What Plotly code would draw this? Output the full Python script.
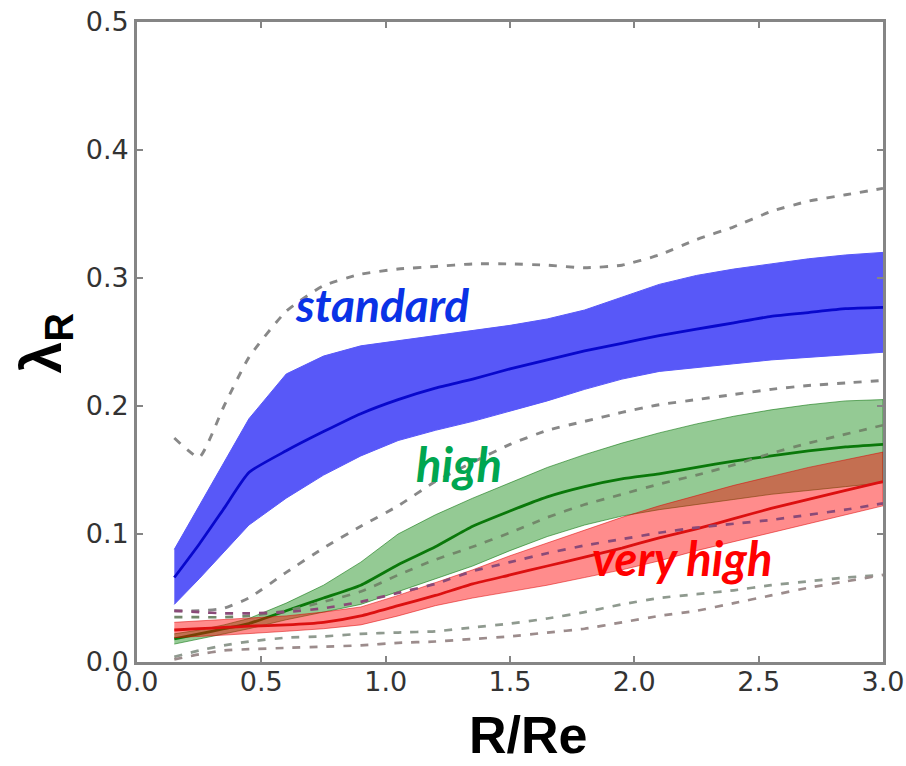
import plotly.graph_objects as go

# Radius grid (R/Re) shared by every profile
r_re = [0.15, 0.25, 0.35, 0.45, 0.6, 0.75, 0.9, 1.05, 1.2, 1.35, 1.5,
        1.65, 1.8, 1.95, 2.1, 2.25, 2.4, 2.55, 2.7, 2.85, 3.0]

# "standard" sample: band limits and median
std_upper = [0.088, 0.122, 0.156, 0.190, 0.225, 0.239, 0.247, 0.251, 0.255, 0.259, 0.263,
             0.268, 0.275, 0.285, 0.295, 0.302, 0.307, 0.311, 0.315, 0.318, 0.320]
std_median = [0.066, 0.092, 0.120, 0.148, 0.165, 0.180, 0.194, 0.205, 0.214, 0.221, 0.229,
              0.236, 0.243, 0.249, 0.255, 0.260, 0.265, 0.270, 0.273, 0.276, 0.277]
std_lower = [0.045, 0.065, 0.086, 0.107, 0.128, 0.146, 0.161, 0.173, 0.181, 0.188, 0.196,
             0.204, 0.213, 0.221, 0.227, 0.230, 0.233, 0.236, 0.238, 0.240, 0.242]

# "high" sample
high_upper = [0.022, 0.025, 0.029, 0.034, 0.046, 0.060, 0.078, 0.100, 0.115, 0.128, 0.140,
              0.152, 0.162, 0.171, 0.179, 0.186, 0.192, 0.197, 0.201, 0.204, 0.205]
high_median = [0.018, 0.022, 0.026, 0.030, 0.040, 0.050, 0.060, 0.076, 0.090, 0.106, 0.118,
               0.129, 0.137, 0.143, 0.147, 0.152, 0.157, 0.161, 0.165, 0.168, 0.170]
high_lower = [0.014, 0.018, 0.022, 0.026, 0.033, 0.039, 0.045, 0.055, 0.065, 0.075, 0.087,
              0.098, 0.107, 0.114, 0.119, 0.123, 0.127, 0.131, 0.134, 0.137, 0.140]

# "very high" sample
vhigh_upper = [0.031, 0.032, 0.033, 0.034, 0.036, 0.039, 0.043, 0.052, 0.062, 0.072, 0.083,
               0.093, 0.103, 0.113, 0.122, 0.130, 0.138, 0.145, 0.152, 0.158, 0.164]
vhigh_median = [0.025, 0.026, 0.027, 0.028, 0.029, 0.031, 0.036, 0.044, 0.052, 0.061, 0.068,
                0.075, 0.082, 0.089, 0.097, 0.104, 0.112, 0.120, 0.127, 0.134, 0.141]
vhigh_lower = [0.019, 0.020, 0.021, 0.022, 0.024, 0.026, 0.029, 0.036, 0.044, 0.050, 0.055,
               0.060, 0.066, 0.072, 0.079, 0.087, 0.094, 0.101, 0.108, 0.115, 0.122]

# Dashed comparison envelopes
std_env_hi = [0.175, 0.160, 0.200, 0.238, 0.274, 0.294, 0.303, 0.307, 0.309, 0.311, 0.311,
              0.310, 0.308, 0.310, 0.318, 0.330, 0.340, 0.352, 0.360, 0.365, 0.370]
std_env_lo = [0.040, 0.040, 0.042, 0.050, 0.070, 0.089, 0.106, 0.122, 0.141, 0.156, 0.170,
              0.181, 0.188, 0.195, 0.201, 0.205, 0.209, 0.213, 0.216, 0.218, 0.220]
high_env_hi = [0.035, 0.035, 0.035, 0.036, 0.040, 0.047, 0.055, 0.068, 0.080, 0.090, 0.101,
               0.113, 0.123, 0.131, 0.139, 0.146, 0.154, 0.163, 0.171, 0.178, 0.185]
high_env_lo = [0.004, 0.009, 0.013, 0.016, 0.019, 0.020, 0.022, 0.023, 0.024, 0.027, 0.030,
               0.034, 0.039, 0.045, 0.050, 0.053, 0.056, 0.060, 0.063, 0.066, 0.068]
vhigh_env_hi = [0.040, 0.039, 0.038, 0.038, 0.039, 0.042, 0.047, 0.054, 0.061, 0.071, 0.078,
                0.085, 0.091, 0.096, 0.101, 0.105, 0.108, 0.111, 0.115, 0.119, 0.124]
vhigh_env_lo = [0.002, 0.006, 0.009, 0.010, 0.011, 0.012, 0.013, 0.015, 0.016, 0.018, 0.020,
                0.023, 0.026, 0.031, 0.036, 0.040, 0.046, 0.052, 0.058, 0.063, 0.068]

x_ticks = [0.0, 0.5, 1.0, 1.5, 2.0, 2.5, 3.0]
y_ticks = [0.0, 0.1, 0.2, 0.3, 0.4, 0.5]

fig = go.Figure()


def band(upper, lower, fill, edge):
    fig.add_trace(go.Scatter(
        x=r_re + r_re[::-1], y=upper + lower[::-1],
        fill="toself", fillcolor=fill, mode="lines",
        line=dict(color=edge, width=1), hoverinfo="skip", showlegend=False))


def line(y, color, width=2.6, dash=None):
    fig.add_trace(go.Scatter(
        x=r_re, y=y, mode="lines",
        line=dict(color=color, width=width, dash=dash, shape="spline", smoothing=0.5),
        hoverinfo="skip", showlegend=False))


DASH = "8px,9px"

# bands and medians
band(std_upper, std_lower, "rgb(88,88,248)", "rgb(88,88,248)")
line(std_median, "#0808cc", 2.8)
band(high_upper, high_lower, "rgba(0,128,0,0.42)", "rgba(0,110,0,0.55)")
line(high_median, "#0a780a", 2.8)
band(vhigh_upper, vhigh_lower, "rgba(255,0,0,0.45)", "rgba(220,0,0,0.5)")
line(vhigh_median, "#dc1010", 2.8)

# dashed envelopes
line(std_env_hi, "#888888", 2.9, DASH)
line(std_env_lo, "#888888", 2.9, DASH)
line(high_env_hi, "#72886a", 2.7, DASH)
line(high_env_lo, "#8f9a8f", 2.7, DASH)
line(vhigh_env_hi, "#8a4a78", 2.7, DASH)
line(vhigh_env_lo, "#9c8c8c", 2.7, DASH)

# sample labels
fig.add_annotation(x=0.985, y=0.279, text="<b><i>standard</i></b>", showarrow=False,
                   font=dict(family="Lato", size=46, color="#0a32e6"),
                   xanchor="center", yanchor="middle")
fig.add_annotation(x=1.295, y=0.155, text="<b><i>high</i></b>", showarrow=False,
                   font=dict(family="Lato", size=47, color="#00a650"),
                   xanchor="center", yanchor="middle")
fig.add_annotation(x=2.19, y=0.081, text="<b><i>very high</i></b>", showarrow=False,
                   font=dict(family="Lato", size=47, color="#ff0000"),
                   xanchor="center", yanchor="middle")

# axis titles
fig.add_annotation(xref="paper", yref="paper", x=0.524, y=-0.1625,
                   text="<b>R/Re</b>", showarrow=False,
                   font=dict(family="Liberation Sans", size=52, color="#000000"),
                   xanchor="center", yanchor="bottom")
fig.add_annotation(xref="paper", yref="paper", x=-0.123, y=0.498,
                   text="<b>λ<sub>R</sub></b>", showarrow=False, textangle=-90,
                   font=dict(family="Liberation Sans", size=57, color="#000000"),
                   xanchor="center", yanchor="middle")

axis_common = dict(
    showgrid=False, zeroline=False, showline=True, linecolor="#858585", linewidth=2.6,
    mirror="ticks", ticks="inside", ticklen=6, tickwidth=1.5, tickcolor="#858585",
    tickfont=dict(family="DejaVu Sans", size=27, color="#333333"), tickformat=".1f",
    automargin=False,
)
fig.update_xaxes(range=[0, 3.0], tickvals=x_ticks, ticklabelstandoff=-6, **axis_common)
fig.update_yaxes(range=[0, 0.5], tickvals=y_ticks, **axis_common)

fig.update_layout(
    width=906, height=766,
    margin=dict(l=137, r=23, t=22, b=104),
    paper_bgcolor="white", plot_bgcolor="white",
    showlegend=False,
)

fig.write_html("out.html")
